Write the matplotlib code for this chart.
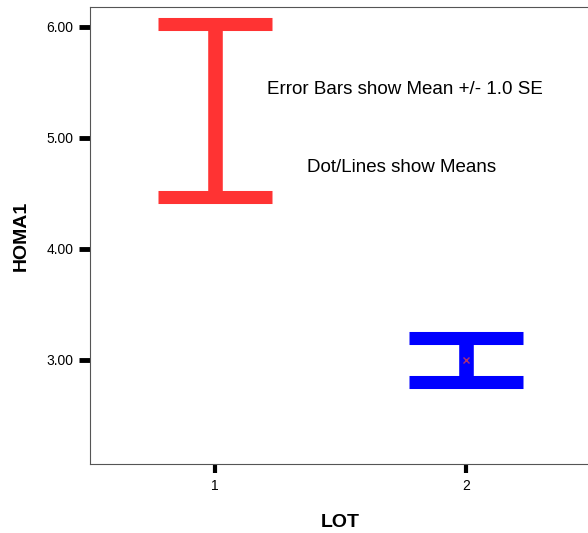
import matplotlib
matplotlib.use('Agg')
import matplotlib.pyplot as plt

plt.rcParams['font.family'] = ['Liberation Sans', 'DejaVu Sans']

# data
lots = [1, 2]
means = [5.25, 3.00]
se = [0.78, 0.20]
bar_colors = ['#FF3333', '#0000FF']
dot_colors = ['#FF3333', '#B03070']
tick_vals = [3.0, 4.0, 5.0, 6.0]

fig = plt.figure(figsize=(5.88, 5.33), dpi=100)
ax = fig.add_axes([90 / 588, 69 / 533, 501 / 588, 457 / 533])

for x, m, s, c, dc in zip(lots, means, se, bar_colors, dot_colors):
    ax.errorbar(x, m, yerr=s, fmt='none', ecolor=c, elinewidth=10.5,
                capsize=41, capthick=9.4)
    ax.plot(x, m, marker='x', color=dc, markersize=4, mew=1)

ax.set_xlim(0.502, 2.498)
ax.set_ylim(2.063, 6.18)
ax.set_xticks(lots)
ax.set_xticklabels([str(v) for v in lots])
ax.set_yticks(tick_vals)
ax.set_yticklabels([f'{v:.2f}' for v in tick_vals])

ax.tick_params(axis='both', direction='out', color='black', labelsize=10, pad=4)
ax.tick_params(axis='y', length=8, width=3.5)
ax.tick_params(axis='x', length=6.5, width=3)

for side in ['left', 'top', 'bottom', 'right']:
    ax.spines[side].set_color('#555555')
    ax.spines[side].set_linewidth(0.8)

ax.set_xlabel('LOT', fontsize=14, fontweight='bold')
ax.set_ylabel('HOMA1', fontsize=14, fontweight='bold')
ax.xaxis.set_label_coords(0.5, -0.11)
ax.yaxis.set_label_coords(-0.12, 0.5)

ax.text(1.207, 5.435, 'Error Bars show Mean +/- 1.0 SE', fontsize=13.5,
        ha='left', va='center')
ax.text(1.745, 4.73, 'Dot/Lines show Means', fontsize=13.5,
        ha='center', va='center')

fig.savefig('out.png', dpi=100)
